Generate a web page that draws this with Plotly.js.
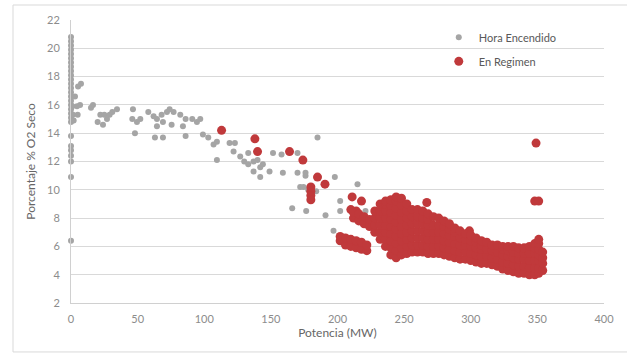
<!DOCTYPE html>
<html>
<head>
<meta charset="utf-8">
<script src="https://cdn.plot.ly/plotly-3.0.1.min.js"></script>
<style>html,body{margin:0;padding:0;background:#fff;}#chart{width:627px;height:354px;}</style>
</head>
<body>
<div id="chart"></div>
<script>
// Series 1: "Hora Encendido" (grey)
const encendidoColumnY = [6.4, 10.9, 12.0, 12.4, 12.8, 13.1, 13.8, 14.8, 15.1, 15.4, 15.7, 16.0, 16.3, 16.6, 16.9, 17.2, 17.5, 17.8, 18.1, 18.4, 18.7, 19.0, 19.3, 19.6, 19.9, 20.2, 20.5, 20.8];
const encendidoX = [1.5, 1, 3, 4.5, 5, 5.3, 7.5, 6.8, 2, 16.5, 15, 22, 25, 29, 24, 20, 27, 31, 34.5, 46.5, 46, 49.5, 52, 48, 58, 62, 64.5, 68, 72, 74, 77, 64.5, 69, 63, 69, 75.5, 82, 86, 84, 86, 91, 94.5, 97, 99, 103, 107, 109.5, 109.5, 119, 123, 122, 127, 130, 133, 133, 137, 137, 140, 142, 144, 149, 151.6, 158, 159, 142, 170, 176, 170, 172, 174.5, 166, 176.5, 185, 176, 198, 215, 178, 184, 202, 191, 202, 221, 197];
const encendidoY = [15.3, 15.9, 16.6, 15.9, 15.3, 17.3, 17.5, 16.0, 14.9, 16.0, 15.8, 15.3, 15.3, 15.3, 14.6, 14.8, 15.0, 15.5, 15.7, 15.7, 15.0, 14.8, 15.0, 14.0, 15.5, 15.2, 15.0, 15.3, 15.5, 15.7, 15.5, 14.5, 14.8, 13.7, 13.7, 14.6, 15.3, 15.0, 14.5, 13.8, 15.0, 14.8, 15.0, 13.9, 13.7, 13.2, 13.4, 12.1, 13.3, 13.3, 12.7, 12.35, 12.0, 11.8, 12.6, 12.0, 11.3, 12.1, 11.6, 11.8, 11.3, 12.6, 12.5, 11.2, 10.9, 11.2, 11.2, 12.6, 10.2, 10.2, 8.7, 8.5, 13.7, 11.0, 10.9, 10.4, 10.0, 9.9, 9.2, 8.2, 8.5, 8.5, 7.1];

// Series 2: "En Regimen" (red) - scattered points
const regimenX = [113, 138, 140, 164, 174, 185, 190.6, 180, 180, 180, 180, 211, 218, 210, 214, 349, 348, 351, 267, 299];
const regimenY = [14.2, 13.6, 12.7, 12.7, 12.1, 10.9, 10.4, 10.2, 9.9, 9.6, 9.3, 9.5, 9.2, 8.6, 8.5, 13.3, 9.2, 9.2, 9.1, 7.1];
// Series 2: dense cloud, read column by column (x, list of y)
const cloudColX = [202, 206, 210, 214, 218, 222, 212, 216, 220, 224, 228, 232, 236, 240, 244, 248, 252, 256, 260, 264, 268, 272, 276, 280, 284, 288, 292, 296, 300, 304, 308, 312, 316, 320, 324, 328, 332, 336, 340, 344, 348, 351, 354];
const cloudColY = [
  [6.4, 6.7], [6.1, 6.6], [6.0, 6.5], [5.9, 6.4], [5.8, 6.3], [5.7, 6.1],
  [8.0, 8.4], [7.8, 8.3], [7.6, 8.1], [7.4, 7.9],
  [7.0, 7.5, 8.0, 8.5],
  [6.5, 7.0, 7.5, 8.0, 8.5, 9.0],
  [6.0, 6.5, 7.0, 7.5, 8.0, 8.5, 9.0, 9.2],
  [5.4, 5.9, 6.4, 6.9, 7.4, 7.9, 8.4, 8.9, 9.3],
  [5.2, 5.7, 6.2, 6.7, 7.2, 7.7, 8.2, 8.7, 9.2, 9.5],
  [5.4, 5.9, 6.4, 6.9, 7.4, 7.9, 8.4, 8.9, 9.4],
  [5.5, 6.0, 6.5, 7.0, 7.5, 8.0, 8.5, 9.0],
  [5.6, 6.1, 6.6, 7.1, 7.6, 8.1, 8.6],
  [5.6, 6.1, 6.6, 7.1, 7.6, 8.1, 8.6],
  [5.6, 6.1, 6.6, 7.1, 7.6, 8.0, 8.5],
  [5.5, 6.0, 6.5, 7.0, 7.5, 7.9, 8.3],
  [5.5, 6.0, 6.5, 7.0, 7.5, 8.1],
  [5.5, 6.0, 6.5, 7.0, 7.5, 8.0],
  [5.4, 5.9, 6.4, 6.9, 7.4, 7.8],
  [5.3, 5.8, 6.3, 6.8, 7.2, 7.6],
  [5.2, 5.7, 6.2, 6.7, 7.0, 7.3],
  [5.1, 5.6, 6.1, 6.6, 7.1],
  [5.1, 5.6, 6.1, 6.5, 6.9],
  [5.0, 5.5, 6.0, 6.4, 6.8],
  [4.9, 5.4, 5.9, 6.3, 6.6],
  [4.8, 5.3, 5.8, 6.1, 6.4],
  [4.8, 5.3, 5.8, 6.3],
  [4.7, 5.2, 5.7, 6.1],
  [4.6, 5.1, 5.6, 6.1],
  [4.4, 4.9, 5.4, 5.8, 6.0],
  [4.3, 4.8, 5.3, 5.7, 6.0],
  [4.2, 4.7, 5.2, 5.6, 6.0],
  [4.1, 4.6, 5.1, 5.5, 5.9],
  [4.1, 4.6, 5.1, 5.5, 5.9],
  [4.0, 4.5, 5.0, 5.5, 6.0],
  [4.0, 4.5, 5.0, 5.5, 5.9, 6.2],
  [4.1, 4.5, 5.0, 5.4, 5.8, 6.2, 6.5],
  [4.3, 4.8, 5.2, 5.6]
];

const seriesNames = ['Hora Encendido', 'En Regimen'];
const xTitle = 'Potencia (MW)';
const yTitle = 'Porcentaje % O2 Seco';

// assemble traces
const gX = encendidoColumnY.map(() => 0).concat(encendidoX);
const gY = encendidoColumnY.concat(encendidoY);
const rX = regimenX.slice();
const rY = regimenY.slice();
cloudColX.forEach((x, i) => { cloudColY[i].forEach(y => { rX.push(x); rY.push(y); }); });

const FONT = 'Lato, "Liberation Sans", sans-serif';
const data = [
  {type: 'scatter', mode: 'markers', name: seriesNames[0], x: gX, y: gY, cliponaxis: false,
   legendgroup: 'a', marker: {color: '#a5a5a5', size: 6, opacity: 1, line: {width: 0}}},
  {type: 'scatter', mode: 'markers', name: seriesNames[1], x: rX, y: rY, cliponaxis: false,
   legendgroup: 'b', marker: {color: '#c0393b', size: 9, opacity: 1, line: {width: 0}}}
];
const layout = {
  width: 627, height: 354,
  margin: {l: 71, r: 23, t: 20, b: 51, pad: 0},
  paper_bgcolor: '#ffffff', plot_bgcolor: '#ffffff',
  font: {family: FONT, color: '#7f7f7f', size: 11},
  showlegend: true,
  legend: {x: 0.69, y: 0.99, xanchor: 'left', yanchor: 'top', bgcolor: 'rgba(0,0,0,0)',
           font: {family: FONT, size: 11, color: '#595959'}, tracegroupgap: 5},
  xaxis: {range: [0, 400], dtick: 50, tick0: 0, showgrid: false, zeroline: false,
          showline: true, linecolor: '#d0d0d0', linewidth: 1,
          ticks: 'outside', ticklen: 6, tickcolor: 'rgba(0,0,0,0)',
          tickfont: {family: FONT, size: 11, color: '#8c8c8c'},
          title: {text: xTitle, standoff: 0, font: {family: FONT, size: 12, color: '#666666'}},
          fixedrange: true},
  yaxis: {range: [2, 22], dtick: 2, tick0: 2, showgrid: true, gridcolor: '#d9d9d9', gridwidth: 1,
          zeroline: false, showline: true, linecolor: '#d0d0d0', linewidth: 1,
          ticks: 'outside', ticklen: 8, tickcolor: 'rgba(0,0,0,0)',
          tickfont: {family: FONT, size: 11, color: '#8c8c8c'},
          title: {text: yTitle, standoff: 8, font: {family: FONT, size: 12, color: '#666666'}},
          fixedrange: true},
  shapes: [{type: 'rect', xref: 'paper', yref: 'paper', x0: -0.1088, x1: 1.06, y0: -0.173, y1: 1.053,
            line: {color: '#d9d9d9', width: 1}, fillcolor: 'rgba(0,0,0,0)', layer: 'below'}]
};
Plotly.newPlot('chart', data, layout, {displayModeBar: false, staticPlot: true});
</script>
</body>
</html>
